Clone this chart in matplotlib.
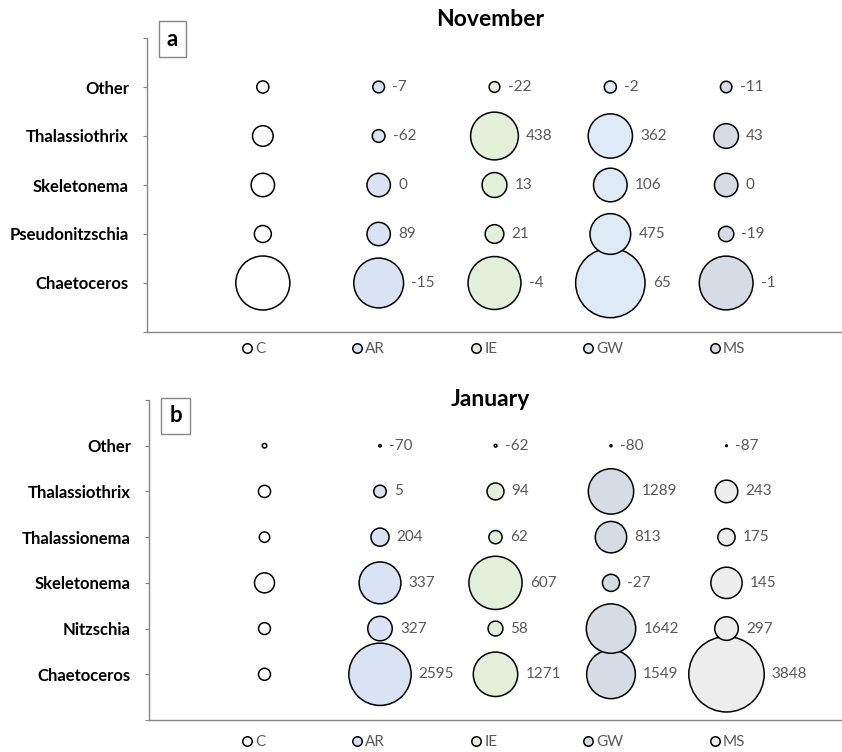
import numpy as np
import matplotlib
matplotlib.use("Agg")
import matplotlib.pyplot as plt
from matplotlib.lines import Line2D

plt.rcParams['font.family'] = ['Lato', 'DejaVu Sans']

# Treatments (columns) and genera (rows, bottom to top)
treatments = ["C", "AR", "IE", "GW", "MS"]

nov_genera = ["Chaetoceros", "Pseudonitzschia", "Skeletonema", "Thalassiothrix", "Other"]
# control abundance (relative units)
nov_control = [729, 72, 137, 106, 37]
# % change vs control for AR, IE, GW, MS
nov_ar = [-15, 89, 0, -62, -7]
nov_ie = [-4, 21, 13, 438, -22]
nov_gw = [65, 475, 106, 362, -2]
nov_ms = [-1, -19, 0, 43, -11]

jan_genera = ["Chaetoceros", "Nitzschia", "Skeletonema", "Thalassionema", "Thalassiothrix", "Other"]
jan_control = [36, 35, 100, 27, 37, 5]
jan_ar = [2595, 327, 337, 204, 5, -70]
jan_ie = [1271, 58, 607, 62, 94, -62]
jan_gw = [1549, 1642, -27, 813, 1289, -80]
jan_ms = [3848, 297, 145, 175, 243, -87]

nov_colors = ["#ffffff", "#dae3f3", "#e2f0d9", "#deebf7", "#d6dce5"]
jan_colors = ["#ffffff", "#dae3f3", "#e2f0d9", "#d6dce5", "#ededed"]

PX2 = (2 * 0.72) ** 2  # area in px^2 (radius^2) -> scatter size in pt^2
AXIS_GREY = "#868686"
LABEL_GREY = "#595959"
W, H = 842, 752

fig = plt.figure(figsize=(W / 100, H / 100), dpi=100)


def panel(rect, genera, control, changes, colors, title, title_y,
          letter, letter_xy, legend_y):
    ax = fig.add_axes(rect)
    n = len(genera)
    ys = np.arange(1, n + 1)
    control = np.asarray(control, dtype=float)
    # control column
    ax.scatter(np.full(n, 1), ys, s=control * PX2, facecolor=colors[0],
               edgecolor="black", linewidth=1.1, zorder=3)
    for j, pct in enumerate(changes, start=1):
        pct = np.asarray(pct, dtype=float)
        vals = control * (1 + pct / 100.0)
        sizes = vals * PX2
        ax.scatter(np.full(n, j + 1), ys, s=sizes, facecolor=colors[j],
                   edgecolor="black", linewidth=1.1, zorder=3)
        for y, s, p in zip(ys, sizes, pct):
            r = np.sqrt(s) / 2
            ax.annotate(f"{int(p)}", (j + 1, y), xytext=(r + 5.5, 0),
                        textcoords="offset points", va="center", ha="left",
                        fontsize=11, color=LABEL_GREY)
    ax.set_xlim(0, 6)
    ax.set_ylim(0, n + 1)
    ax.set_yticks(np.arange(0, n + 2))
    ax.set_yticklabels([""] + genera + [""], fontweight="bold", fontsize=12)
    ax.set_xticks([])
    for side in ("top", "right"):
        ax.spines[side].set_visible(False)
    for side in ("left", "bottom"):
        ax.spines[side].set_color(AXIS_GREY)
        ax.spines[side].set_linewidth(1.0)
    ax.tick_params(axis="y", length=3, color=AXIS_GREY, pad=10)
    ax.patch.set_alpha(0)
    fig.text(490 / W, 1 - title_y / H, title, ha="center", va="center",
             fontsize=16.5, fontweight="bold")
    fig.text(letter_xy[0] / W, 1 - letter_xy[1] / H, letter, ha="center",
             va="center", fontsize=16, fontweight="bold",
             bbox=dict(boxstyle="square,pad=0.35", facecolor="white",
                       edgecolor=AXIS_GREY, linewidth=1.0))
    handles = [Line2D([], [], marker="o", linestyle="none", markersize=6.8,
                      markerfacecolor=c, markeredgecolor="black",
                      markeredgewidth=1.1) for c in colors]
    leg = fig.legend(handles, treatments, loc="center", ncol=5,
                     bbox_to_anchor=(0.585, 1 - legend_y / H), frameon=False,
                     columnspacing=5.45, handletextpad=0.05, handlelength=1.0,
                     fontsize=11)
    for t in leg.get_texts():
        t.set_color(LABEL_GREY)
    return ax


panel([147 / W, 1 - 332 / H, 1 - 147 / W, 294 / H],
      nov_genera, nov_control, [nov_ar, nov_ie, nov_gw, nov_ms],
      nov_colors, "November", 20, "a", (172.5, 39), 349)
panel([149 / W, 1 - 720 / H, 1 - 149 / W, 320 / H],
      jan_genera, jan_control, [jan_ar, jan_ie, jan_gw, jan_ms],
      jan_colors, "January", 400, "b", (175.5, 416), 742)

fig.savefig("out.png", dpi=100)
